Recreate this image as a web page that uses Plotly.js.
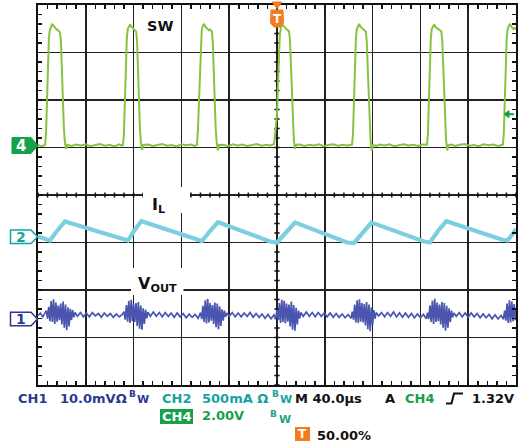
<!DOCTYPE html>
<html><head><meta charset="utf-8">
<script src="https://cdn.plot.ly/plotly-3.0.1.min.js"></script>
<style>html,body{margin:0;padding:0;background:#fff}#chart{width:526px;height:446px}</style>
</head><body><div id="chart"></div>
<script>
// ---- DATA (time in µs) ----
// CH4: switch node SW (V)
const swT = [-200,-197,-194.1,
 -193.3,-192.5,-191.7,-190.9,-190.1,-189.1,-188.1,-187.1,-186.1,-185.1,-184.1,-183.1,-181.6,-180.8,-180.0,-179.2,-178.4,-177.6,-176.6,-175.6,
 -172,-168,-164,-160,-156,-152,-148,-144,-140,-136,-132,-130,-128.9,
 -128.1,-127.3,-126.5,-125.7,-124.9,-123.9,-122.9,-121.9,-120.9,-119.9,-118.9,-117.9,-117.1,-116.3,-115.5,-114.7,-113.9,-112.9,-111.9,
 -108,-104,-100,-96,-92,-88,-84,-80,-76,-72,-69,-67,
 -66.2,-65.4,-64.6,-63.8,-63,-62,-61,-60,-59,-58,-57,-56,-54.5,-53.7,-52.9,-52.1,-51.3,-50.5,-49.5,-48.5,
 -45,-41,-37,-33,-29,-25,-21,-17,-13,-9,-6,-4,-2.5,
 -1.7,-0.9,0,0.8,1.6,2.4,3.3,4.3,5.3,6.3,7.3,8.3,9.3,10.1,10.9,11.7,12.5,13.3,14.1,15.1,16.1,
 19,23,27,31,35,39,43,47,51,55,59,62.8,
 63.6,64.4,65.2,66,66.8,67.8,68.8,69.8,70.8,71.8,72.8,74.3,75.1,75.9,76.7,77.5,78.3,79.3,80.3,
 83,86,90,94,98,102,106,110,114,118,122,125.5,
 126.3,127.1,127.9,128.7,129.5,130.5,131.5,132.5,133.5,134.5,135.5,136.5,137.5,138.3,139.1,139.9,140.7,141.5,142.5,143.5,
 146,149,153,157,161,165,169,173,177,181,185,189,
 189.8,190.6,191.4,192.2,193,194,195,196,197,198,199,200];
const swV = [0.02,-0.04,0.03,
 0.5,1.8,3.4,4.5,4.85,5.0,5.12,5.05,4.95,4.92,4.88,4.85,4.75,4.4,3.2,1.8,0.8,0.2,-0.15,0.03,
 -0.02,0.04,0.0,0.05,-0.03,0.02,0.06,-0.01,0.03,-0.04,0.05,0.0,0.03,
 0.5,1.9,3.5,4.5,4.9,5.02,5.1,5.0,4.97,4.9,4.85,4.8,4.4,3.1,1.7,0.7,0.15,-0.18,0.02,
 0.04,-0.02,0.03,0.06,-0.01,0.02,-0.04,0.05,0.01,0.04,-0.02,0.03,
 0.6,1.8,3.3,4.4,4.85,5.05,5.12,5.0,4.95,4.9,4.85,4.88,4.8,4.3,3.0,1.7,0.7,0.15,-0.2,0.02,
 0.03,-0.03,0.05,0.0,0.04,-0.02,0.03,0.06,-0.01,0.03,0.0,0.04,0.05,
 0.4,0.9,1.32,2.6,4.0,4.7,4.95,5.1,5.05,4.98,4.95,4.88,4.85,4.8,4.4,3.2,1.8,0.8,0.2,-0.15,0.03,
 0.04,-0.02,0.03,0.0,0.05,-0.03,0.02,0.05,-0.01,0.03,0.0,0.04,
 0.5,1.8,3.4,4.5,4.9,5.05,5.12,5.0,4.95,4.9,4.85,4.8,4.4,3.1,1.8,0.8,0.2,-0.2,0.03,
 -0.02,0.04,0.0,0.05,-0.03,0.02,0.05,0.0,0.03,-0.02,0.04,0.03,
 0.5,1.9,3.5,4.5,4.9,5.05,5.1,5.0,4.95,4.9,4.88,4.85,4.8,4.4,3.2,1.8,0.8,0.2,-0.2,0.02,
 0.04,-0.02,0.03,0.06,-0.01,0.02,-0.03,0.05,0.01,0.04,-0.02,0.03,
 0.5,1.8,3.4,4.5,4.9,5.05,5.1,5.0,4.95,4.9,4.95,4.9];

// CH2: inductor current IL (A)
const ilT = [-200,-193.3,-190.0,-184.1,-177.4,-176.0,-128.9,-124.7,-119.7,-113.4,-112.0,-66.1,-62.8,-56.1,-49.4,-48.0,
 -5.9,0.0,7.5,15.1,16.5,58.6,64.4,72.0,79.1,80.5,123.0,128.0,134.7,141.8,143.2,187.9,192.9,197.1,200];
const ilA = [0.002,-0.029,-0.040,0.060,0.160,0.155,-0.029,-0.040,0.060,0.165,0.158,-0.035,-0.045,0.058,0.152,0.146,
 -0.050,-0.061,0.049,0.149,0.143,-0.061,-0.066,0.049,0.149,0.143,-0.051,-0.061,0.060,0.165,0.158,-0.029,-0.040,0.028,0.081];

// CH1: output ripple VOUT (mV)
const voutT = [-200,-198,-196,-194,
 -193,-192,-191,-190,-189,-188,-187,-186,-185,-184,-183,-182,-181,-180,-179,-178,-177,-176,-175,-174,-173,-172,-171,-170,-169,
 -167,-164.5,-162,-159.5,-157,-154.5,-152,-149.5,-147,-144.5,-142,-139.5,-137,-134.5,-132,-129.5,
 -128,-127,-126,-125,-124,-123,-122,-121,-120,-119,-118,-117,-116,-115,-114,-113,-112,-111,-110,-109,-108,
 -106,-103.5,-101,-98.5,-96,-93.5,-91,-88.5,-86,-83.5,-81,-78.5,-76,-73.5,-71,-68.5,-66,
 -64,-63,-62,-61,-60,-59,-58,-57,-56,-55,-54,-53,-52,-51,-50,-49,-48,-47,-46,-45,-44,-43,-42,
 -40,-37.5,-35,-32.5,-30,-27.5,-25,-22.5,-20,-17.5,-15,-12.5,-10,-7.5,-5,-2.5,-1,
 0,1,2,3,4,5,6,7,8,9,10,11,12,13,14,15,16,17,18,19,20,
 22,24.5,27,29.5,32,34.5,37,39.5,42,44.5,47,49.5,52,54.5,57,59.5,62,
 63,64,65,66,67,68,69,70,71,72,73,74,75,76,77,78,79,80,81,82,83,
 85,87.5,90,92.5,95,97.5,100,102.5,105,107.5,110,112.5,115,117.5,120,122.5,125,
 126,127,128,129,130,131,132,133,134,135,136,137,138,139,140,141,142,143,144,145,146,147,148,
 150,152.5,155,157.5,160,162.5,165,167.5,170,172.5,175,177.5,180,182.5,185,187.5,189.5,
 190.5,191.5,192.5,193.5,194.5,195.5,196.5,197.5,198.5,199.5,200];
const voutMv = [0.75,1.25,0.45,1.15,
 1.75,0.05,2.55,-0.45,3.75,-0.65,4.15,-1.05,3.45,-0.55,2.85,-0.25,3.25,-1.15,3.65,-1.85,3.05,-2.35,2.45,-1.55,2.15,-0.25,1.85,0.35,1.35,
 0.55,1.35,0.45,1.25,0.45,1.35,0.65,1.15,0.35,1.25,0.55,1.15,0.35,1.05,0.45,0.95,
 1.55,-0.15,2.95,-0.55,3.85,-0.85,4.05,-0.45,3.15,-0.65,3.35,-1.45,3.55,-2.05,2.85,-2.25,2.25,-1.05,1.95,0.15,1.45,
 0.55,1.45,0.55,1.35,0.45,1.35,0.55,1.25,0.35,1.25,0.45,1.15,0.25,1.05,0.35,0.95,0.15,
 1.35,-0.05,2.75,-0.65,3.95,-0.95,4.25,-0.75,3.35,-0.35,2.95,-1.05,3.45,-1.75,3.25,-2.15,2.65,-1.45,2.05,-0.35,1.75,0.45,1.25,
 0.55,1.35,0.45,1.25,0.45,1.25,0.55,1.35,0.35,1.15,0.35,1.05,0.15,0.95,0.05,0.85,0.05,
 1.85,-0.25,3.35,-0.85,4.05,-0.65,3.85,-0.95,3.25,-0.55,3.05,-1.55,3.65,-2.25,2.95,-2.45,2.35,-1.15,1.75,0.15,1.35,
 0.55,1.45,0.55,1.35,0.45,1.35,0.55,1.25,0.45,1.25,0.35,1.15,0.35,1.05,0.25,0.95,0.15,
 1.55,-0.15,3.05,-0.75,3.95,-0.85,4.15,-0.55,3.35,-0.75,3.15,-1.35,3.55,-2.15,3.05,-2.55,2.45,-1.25,1.85,0.05,1.35,
 0.65,1.35,0.45,1.35,0.55,1.45,0.45,1.25,0.35,1.25,0.35,1.15,0.25,1.05,0.25,0.95,0.05,
 1.35,-0.05,2.85,-0.65,3.85,-1.05,4.25,-0.65,3.45,-0.45,3.05,-1.15,3.55,-1.85,3.35,-2.45,2.75,-1.85,2.25,-0.65,1.75,0.35,1.25,
 0.55,1.35,0.45,1.25,0.35,1.25,0.45,1.15,0.25,1.05,0.25,0.95,0.05,0.85,0.0,0.75,-0.05,
 1.75,-0.35,3.25,-0.85,3.95,-0.75,3.65,-0.45,3.15,-0.25,1.85];

// channel settings: units per division and ground-marker position (divisions from centre)
const chScale = {ch1: 10, ch2: 0.5, ch4: 2};
const chOffset = {ch1: -2.61, ch2: -0.878, ch4: 1.042};
const trigLevel = 1.32; // V on CH4

// ---- helpers (layout geometry) ----
const L = 38, R = 516, T = 5, B = 385;
const px = x => (x - L) / (R - L);
const py = y => (B - y) / (B - T);
const toT = x => (x - L) * 400 / (R - L) - 200;   // pixel -> µs
const toDiv = y => (195 - y) / 47.5;               // pixel -> divisions
const rng = c => [(-4 - chOffset[c]) * chScale[c], (4 - chOffset[c]) * chScale[c]];
const zeroPx = c => 195 - chOffset[c] * 47.5;

const navy = '#2b3990', teal = '#17a2a2', green = '#17a04a', orange = '#f47b20', ink = '#111';
const FONT = 'DejaVu Sans, Verdana, sans-serif';

const traces = [
  {x: swT, y: swV, yaxis: 'y2', type: 'scatter', mode: 'lines', line: {color: '#86c440', width: 2}, hoverinfo: 'skip'},
  {x: ilT, y: ilA, yaxis: 'y3', type: 'scatter', mode: 'lines', line: {color: '#7dcfe0', width: 4.2}, hoverinfo: 'skip'},
  {x: voutT, y: voutMv, yaxis: 'y4', type: 'scatter', mode: 'lines', line: {color: '#4a55b0', width: 1.7}, hoverinfo: 'skip'}
];

const axBase = {
  showticklabels: false, showgrid: true, gridcolor: '#222', gridwidth: 1.5,
  ticks: 'inside', ticklen: 4, tickwidth: 1.5, tickcolor: ink,
  showline: true, linecolor: ink, linewidth: 2, mirror: 'allticks', zeroline: false, fixedrange: true
};

// centre crosshair ticks
let cross = '';
for (let i = 0; i <= 50; i++) { const t = -200 + i * 8; cross += `M${t},-0.055L${t},0.055`; }
for (let i = 0; i <= 40; i++) { const d = -4 + i * 0.2; cross += `M-2.2,${d}L2.2,${d}`; }

const shapes = [
  {type: 'path', xref: 'x', yref: 'y', layer: 'between', path: cross, line: {color: ink, width: 1.5}},
  // white label backgrounds that hide the graticule
  {type: 'rect', xref: 'x', yref: 'y', layer: 'between', x0: toT(143), x1: toT(190), y0: toDiv(187), y1: toDiv(213), fillcolor: '#fff', line: {width: 0}},
  {type: 'rect', xref: 'x', yref: 'y', layer: 'between', x0: toT(131), x1: toT(183.5), y0: toDiv(268), y1: toDiv(295), fillcolor: '#fff', line: {width: 0}}
];
function pentagon(left, boxRight, tip, yc, half) {
  return `M${px(left)},${py(yc - half)}L${px(boxRight)},${py(yc - half)}L${px(tip)},${py(yc)}L${px(boxRight)},${py(yc + half)}L${px(left)},${py(yc + half)}Z`;
}
// channel ground markers
const y4 = zeroPx('ch4'), y2 = zeroPx('ch2'), y1 = zeroPx('ch1');
shapes.push({type: 'path', xref: 'paper', yref: 'paper', path: pentagon(12, 31, 38, y4, 8), fillcolor: green, line: {color: green, width: 1}});
shapes.push({type: 'path', xref: 'paper', yref: 'paper', path: pentagon(10.5, 31, 37.5, y2, 6.7), fillcolor: '#fff', line: {color: teal, width: 1.5}});
shapes.push({type: 'path', xref: 'paper', yref: 'paper', path: pentagon(10.5, 31, 37.5, y1, 6.7), fillcolor: '#fff', line: {color: navy, width: 1.5}});
// trigger level arrow (right edge)
const yTrig = y4 - trigLevel * 47.5 / chScale.ch4;
shapes.push({type: 'path', xref: 'paper', yref: 'paper', path: `M${px(504)},${py(yTrig)}L${px(509)},${py(yTrig - 3.5)}L${px(509)},${py(yTrig + 3.5)}Z`, fillcolor: green, line: {color: green, width: 1}});
shapes.push({type: 'line', xref: 'paper', yref: 'paper', x0: px(508), x1: px(514), y0: py(yTrig), y1: py(yTrig), line: {color: green, width: 2}});
// trigger position badge (top)
shapes.push({type: 'path', xref: 'paper', yref: 'paper', path: `M${px(272)},${py(2)}L${px(282)},${py(2)}L${px(277)},${py(8.5)}Z`, fillcolor: orange, line: {color: orange, width: 1}});
shapes.push({type: 'path', xref: 'paper', yref: 'paper', path: `M${px(271)},${py(10)}L${px(283)},${py(10)}L${px(283.5)},${py(23)}L${px(280)},${py(27)}L${px(274)},${py(27)}L${px(270.5)},${py(23)}Z`, fillcolor: orange, line: {color: orange, width: 1}});
// bottom readout boxes
shapes.push({type: 'rect', xref: 'paper', yref: 'paper', x0: px(160), x1: px(193), y0: py(424), y1: py(409), fillcolor: green, line: {width: 0}});
shapes.push({type: 'rect', xref: 'paper', yref: 'paper', x0: px(295), x1: px(310), y0: py(441), y1: py(427), fillcolor: orange, line: {width: 0}});
// trigger slope symbol
shapes.push({type: 'path', xref: 'paper', yref: 'paper', path: `M${px(446)},${py(403.5)}L${px(451.5)},${py(403.5)}L${px(454)},${py(393.5)}L${px(463)},${py(393.5)}`, line: {color: ink, width: 2}});

const annotations = [];
function txt(text, x, y, color, size, anchor) {
  annotations.push({text, xref: 'paper', yref: 'paper', x: px(x), y: py(y), xanchor: anchor || 'left', yanchor: 'middle',
    showarrow: false, borderpad: 0, borderwidth: 0, font: {family: FONT, size, color, weight: 'bold'}});
}
// channel marker digits
txt('4', 21, y4, '#fff', 15, 'center');
txt('2', 21, y2, teal, 14, 'center');
txt('1', 21, y1, navy, 14, 'center');
txt('T', 277, 18.5, '#fff', 12, 'center');
// trace labels
txt('SW', 159.5, 26, ink, 14.5, 'center');
txt('I<sub>L</sub>', 158, 205, ink, 16, 'center');
txt('V<sub>OUT</sub>', 157.5, 284, ink, 16, 'center');
// readout row 1
txt('CH1', 18, 399, navy, 13);
txt('10.0mVΩ', 60, 399, navy, 13);
txt('B', 128.5, 394, navy, 9);
txt('W', 136.5, 399.5, navy, 11);
txt('CH2', 162, 399, teal, 13);
txt('500mA Ω', 202, 399, teal, 13);
txt('B', 271.5, 394, teal, 9);
txt('W', 279.5, 399.5, teal, 11);
txt('M 40.0µs', 295, 399, ink, 13);
txt('A', 385, 399, ink, 13);
txt('CH4', 405, 399, green, 13);
txt('1.32V', 472, 399, ink, 13);
// row 2
txt('CH4', 176.5, 416.5, '#fff', 13, 'center');
txt('2.00V', 202, 416, green, 13);
txt('B', 270, 414, '#1fa38a', 9);
txt('W', 279, 419, '#1fa38a', 11);
// row 3
txt('T', 302.5, 434, '#fff', 12, 'center');
txt('50.00%', 317, 435, ink, 13);

const layout = {
  width: 526, height: 446,
  margin: {l: L, r: 526 - R, t: T, b: 446 - B, pad: 0},
  paper_bgcolor: '#fff', plot_bgcolor: '#fff', showlegend: false,
  xaxis: Object.assign({}, axBase, {range: [-200, 200], dtick: 40, tick0: 0,
    minor: {dtick: 8, ticks: 'inside', ticklen: 4, tickwidth: 1.5, tickcolor: ink, showgrid: false}}),
  yaxis: Object.assign({}, axBase, {range: [-4, 4], dtick: 1, tick0: 0,
    minor: {dtick: 0.2, ticks: 'inside', ticklen: 4, tickwidth: 1.5, tickcolor: ink, showgrid: false}}),
  yaxis2: {overlaying: 'y', range: rng('ch4'), visible: false, fixedrange: true},
  yaxis3: {overlaying: 'y', range: rng('ch2'), visible: false, fixedrange: true},
  yaxis4: {overlaying: 'y', range: rng('ch1'), visible: false, fixedrange: true},
  shapes, annotations
};

Plotly.newPlot('chart', traces, layout, {displayModeBar: false, staticPlot: true});
</script>
</body></html>
